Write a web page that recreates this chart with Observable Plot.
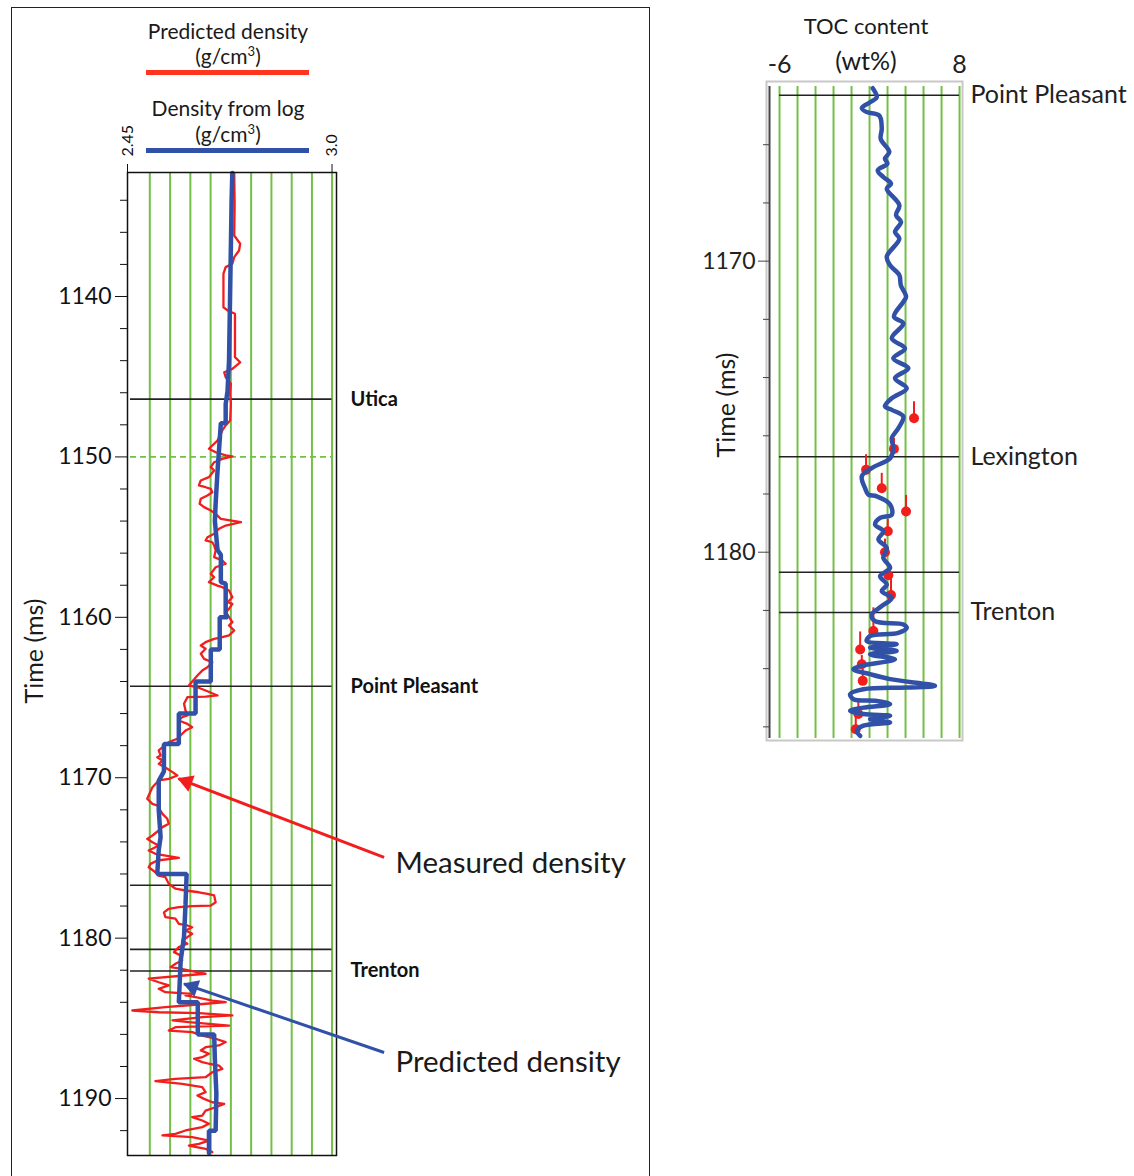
<!DOCTYPE html>
<html>
<head>
<meta charset="utf-8">
<script src="https://cdn.jsdelivr.net/npm/d3@7"></script>
<script src="https://cdn.jsdelivr.net/npm/@observablehq/plot@0.6"></script>
<style>
  body { margin: 0; background: #fff; }
  #page { position: relative; width: 1134px; height: 1176px; overflow: hidden; background: #fff;
          font-family: Lato, "Open Sans", sans-serif; color: #1a1a1a; }
  .t { position: absolute; white-space: nowrap; transform: translate(-50%, -50%); line-height: 1; }
  .rot { transform: translate(-50%, -50%) rotate(-90deg); }
  .sup { font-size: 13px; position: relative; top: -8px; }
  .bar { position: absolute; height: 5px; }
  #leftplot { position: absolute; left: 0; top: 0; width: 650px; }
  #rightplot { position: absolute; left: 690px; top: 0; width: 444px; }
  #frame { position: absolute; left: 11px; top: 7px; width: 637px; height: 1220px; border: 1.5px solid #222; pointer-events: none; }
</style>
</head>
<body>
<div id="page">
  <div id="leftplot"></div>
  <div id="rightplot"></div>
  <div id="frame"></div>

  <div class="t" style="left:228px;top:30px;font-size:21px">Predicted density</div>
  <div class="t" style="left:228px;top:55px;font-size:21px">(g/cm<span class="sup">3</span>)</div>
  <div class="bar" style="left:146px;top:70px;width:163px;background:#ff3520"></div>
  <div class="t" style="left:228px;top:107px;font-size:21px">Density from log</div>
  <div class="t" style="left:228px;top:133px;font-size:21px">(g/cm<span class="sup">3</span>)</div>
  <div class="bar" style="left:146px;top:148px;width:163px;background:#3151a9"></div>

  <div class="t rot" style="left:33px;top:651px;font-size:25px">Time (ms)</div>
  <div class="t rot" style="left:725px;top:405px;font-size:25px">Time (ms)</div>

  <div class="t" style="left:866px;top:26px;font-size:22px">TOC content</div>
  <div class="t" style="left:866px;top:60px;font-size:25px">(wt%)</div>
</div>

<script>
// ---------------- data ----------------
// Left track: density (g/cm3) vs two-way time (ms)
const densityTicks = [2.45, 3.0];
const densityTickLabels = ["2.45", "3.0"];
const densityGrid = [2.51, 2.5645, 2.619, 2.6735, 2.728, 2.7825, 2.837, 2.8915, 2.946, 3.0];
const timeMajorLeft = [1140, 1150, 1160, 1170, 1180, 1190];
const timeMinorLeft = [1134, 1136, 1138, 1142, 1144, 1146, 1148, 1152, 1154, 1156, 1158, 1162, 1164, 1166, 1168,
                       1172, 1174, 1176, 1178, 1182, 1184, 1186, 1188, 1192];
const dashedTime = [1150];
const leftHorizonTimes = [1146.4, 1164.3, 1176.7, 1180.7, 1182.05];
const leftHorizonNames = ["Utica", "Point Pleasant", "", "", "Trenton"];

// measured density (red) [time, density]
const measuredDensity = [
[1132.33,2.737],[1134.02,2.738],[1134.51,2.738],[1136.2,2.737],[1136.71,2.753],[1137.13,2.750],[1137.55,2.737],[1137.96,2.732],[1138.17,2.714],[1138.58,2.708],[1140.67,2.708],[1140.87,2.719],[1141.08,2.739],[1143.78,2.739],[1144.10,2.753],[1144.51,2.732],[1144.72,2.710],[1145.03,2.714],[1145.44,2.728],[1146.07,2.726],[1146.69,2.728],[1147.73,2.726],[1148.04,2.714],[1148.35,2.705],[1148.98,2.692],[1149.29,2.678],[1149.49,2.669],[1149.71,2.687],[1149.91,2.714],[1149.97,2.732],[1150.12,2.705],[1150.33,2.683],[1150.64,2.674],[1150.85,2.683],[1151.26,2.669],[1151.47,2.647],[1151.78,2.642],[1151.89,2.660],[1151.99,2.674],[1152.20,2.678],[1152.41,2.665],[1152.61,2.647],[1152.92,2.644],[1153.13,2.656],[1153.34,2.674],[1153.55,2.687],[1153.86,2.701],[1154.07,2.755],[1154.28,2.714],[1154.48,2.696],[1154.79,2.683],[1155.01,2.665],[1155.21,2.660],[1155.32,2.678],[1155.52,2.683],[1155.83,2.687],[1156.25,2.683],[1156.46,2.705],[1156.66,2.714],[1156.88,2.687],[1157.29,2.674],[1157.50,2.683],[1157.81,2.669],[1158.02,2.692],[1158.12,2.705],[1158.33,2.723],[1158.75,2.732],[1159.06,2.719],[1159.16,2.732],[1159.47,2.723],[1159.68,2.714],[1159.99,2.723],[1160.30,2.732],[1160.51,2.723],[1160.82,2.737],[1161.13,2.723],[1161.24,2.705],[1161.34,2.683],[1161.55,2.660],[1161.76,2.647],[1161.96,2.660],[1162.27,2.647],[1162.59,2.656],[1162.80,2.678],[1163.11,2.665],[1163.32,2.651],[1163.63,2.638],[1164.25,2.615],[1164.36,2.638],[1164.56,2.660],[1164.87,2.692],[1164.94,2.660],[1164.98,2.611],[1165.39,2.602],[1165.81,2.606],[1166.12,2.611],[1166.23,2.597],[1166.43,2.588],[1166.64,2.611],[1166.85,2.624],[1167.06,2.606],[1167.26,2.597],[1167.57,2.584],[1167.78,2.561],[1168.10,2.544],[1168.30,2.534],[1168.61,2.539],[1168.72,2.530],[1168.93,2.544],[1169.13,2.534],[1169.44,2.557],[1169.65,2.571],[1169.86,2.584],[1170.07,2.561],[1170.17,2.534],[1170.59,2.517],[1171.31,2.503],[1171.63,2.517],[1171.73,2.530],[1172.25,2.544],[1172.56,2.557],[1172.87,2.561],[1173.08,2.544],[1173.29,2.534],[1173.60,2.517],[1173.81,2.503],[1174.02,2.517],[1174.23,2.534],[1174.43,2.517],[1174.54,2.507],[1174.74,2.525],[1174.99,2.588],[1175.16,2.530],[1175.37,2.512],[1175.58,2.507],[1175.89,2.525],[1176.10,2.534],[1176.20,2.552],[1176.61,2.561],[1176.92,2.579],[1177.03,2.606],[1177.14,2.642],[1177.24,2.665],[1177.34,2.683],[1177.76,2.687],[1177.97,2.674],[1178.00,2.624],[1178.07,2.588],[1178.17,2.561],[1178.39,2.548],[1178.69,2.552],[1178.79,2.579],[1179.11,2.588],[1179.21,2.611],[1179.32,2.624],[1179.52,2.606],[1179.73,2.624],[1179.94,2.611],[1180.14,2.597],[1180.35,2.611],[1180.56,2.588],[1180.87,2.575],[1181.08,2.593],[1181.39,2.597],[1181.60,2.579],[1181.81,2.566],[1181.89,2.588],[1182.22,2.660],[1182.33,2.602],[1182.53,2.507],[1182.75,2.534],[1182.95,2.561],[1183.16,2.534],[1183.37,2.552],[1183.47,2.624],[1183.57,2.606],[1183.68,2.633],[1183.89,2.678],[1183.99,2.714],[1184.09,2.660],[1184.20,2.606],[1184.30,2.552],[1184.51,2.463],[1184.62,2.534],[1184.68,2.642],[1184.82,2.732],[1184.93,2.651],[1185.13,2.571],[1185.24,2.615],[1185.45,2.723],[1185.55,2.579],[1185.76,2.561],[1185.86,2.624],[1186.07,2.651],[1186.27,2.687],[1186.48,2.714],[1186.69,2.696],[1186.80,2.660],[1187.00,2.647],[1187.21,2.669],[1187.42,2.651],[1187.52,2.629],[1187.73,2.651],[1187.83,2.669],[1187.94,2.696],[1188.15,2.705],[1188.36,2.678],[1188.67,2.660],[1188.77,2.579],[1188.92,2.525],[1189.08,2.597],[1189.29,2.651],[1189.60,2.660],[1189.81,2.638],[1190.02,2.656],[1190.23,2.678],[1190.33,2.710],[1190.54,2.687],[1190.75,2.660],[1191.06,2.651],[1191.16,2.624],[1191.37,2.651],[1191.57,2.669],[1191.78,2.651],[1191.99,2.606],[1192.20,2.579],[1192.30,2.544],[1192.41,2.624],[1192.62,2.669],[1192.82,2.642],[1192.93,2.615],[1193.13,2.660],[1193.34,2.678]
];

// predicted density (blue, blocky) [time, density]
const predictedDensity = [
[1132.3,2.732],[1134.0,2.730],[1144.0,2.723],[1145.9,2.719],[1146.7,2.714],[1147.9,2.714],[1147.9,2.701],[1149.6,2.696],[1150.9,2.692],[1152.9,2.687],[1154.0,2.685],[1155.8,2.692],[1156.1,2.701],[1157.8,2.701],[1157.9,2.714],[1159.8,2.714],[1160.0,2.719],[1160.0,2.698],[1162.0,2.698],[1162.0,2.674],[1164.0,2.674],[1164.0,2.633],[1166.0,2.633],[1166.0,2.588],[1167.9,2.588],[1167.9,2.548],[1169.6,2.548],[1170.2,2.534],[1172.0,2.534],[1173.7,2.539],[1174.5,2.534],[1176.0,2.530],[1176.0,2.609],[1177.9,2.606],[1179.9,2.602],[1181.4,2.593],[1184.0,2.588],[1184.0,2.639],[1186.0,2.639],[1186.0,2.683],[1187.6,2.685],[1189.7,2.689],[1192.0,2.687],[1192.0,2.669],[1193.4,2.669]
];

// callouts: label, text anchor [time, density], arrow tip [time, density], arrow tail [time, density]
const calloutLabels = ["Measured density", "Predicted density"];
const calloutTextPos = [[1175.35, 3.1706], [1187.76, 3.1706]];
const calloutTip = [[1170.05, 2.587], [1182.85, 2.602]];
const calloutTail = [[1174.97, 3.140], [1187.13, 3.140]];

// Right track: TOC (wt%) vs time
const tocTicks = [-6, 8];
const tocTickLabels = ["-6", "8"];
const tocGrid = [-6, -4.6, -3.2, -1.8, -0.4, 1, 2.4, 3.8, 5.2, 6.6, 8];
const timeMajorRight = [1170, 1180];
const timeMinorRight = [1166, 1168, 1172, 1174, 1176, 1178, 1182, 1184, 1186];
const rightHorizonTimes = [1164.3, 1176.72, 1180.69, 1182.07];
const rightHorizonNames = ["Point Pleasant", "Lexington", "", "Trenton"];

// predicted TOC (blue) [time, TOC]
const tocCurve = [
[1164.06,1.25],[1164.37,1.56],[1164.54,1.04],[1164.74,0.40],[1164.88,0.78],[1165.0,1.76],[1165.45,1.95],[1165.8,1.87],[1166.25,2.54],[1166.48,2.2],[1166.65,2.39],[1166.88,1.64],[1167.11,2.07],[1167.34,2.67],[1167.51,2.34],[1168.08,3.32],[1168.42,3.06],[1168.65,3.45],[1169.0,2.98],[1169.23,3.32],[1169.85,2.34],[1170.14,2.6],[1170.48,3.32],[1170.82,3.43],[1171.22,3.84],[1171.40,3.63],[1171.91,2.9],[1172.14,3.63],[1172.65,2.73],[1173.0,3.76],[1173.34,2.85],[1173.68,4.02],[1174.02,2.98],[1174.37,3.89],[1174.71,2.73],[1174.99,2.2],[1175.11,2.73],[1175.34,3.63],[1175.74,3.24],[1176.08,2.73],[1176.42,2.85],[1176.77,2.6],[1177.11,1.17],[1177.39,0.4],[1177.80,0.65],[1178.02,0.91],[1178.08,1.56],[1178.36,2.6],[1178.71,2.73],[1178.82,1.82],[1179.05,1.43],[1179.28,2.07],[1179.56,1.69],[1179.85,2.34],[1180.19,2.07],[1180.54,2.6],[1180.82,1.82],[1181.11,2.34],[1181.34,1.95],[1181.57,2.73],[1181.85,1.95],[1182.14,1.17],[1182.37,1.43],[1182.48,3.63],[1182.6,3.89],[1182.77,3.24],[1182.88,1.04],[1183.05,0.78],[1183.16,3.11],[1183.28,1.04],[1183.39,3.11],[1183.51,1.04],[1183.68,2.98],[1183.91,0.27],[1184.02,-0.25],[1184.19,1.04],[1184.36,2.6],[1184.59,6.09],[1184.65,3.89],[1184.71,0.52],[1184.88,-0.51],[1185.05,-0.25],[1185.11,1.56],[1185.22,2.6],[1185.34,0.52],[1185.45,-0.51],[1185.56,0.52],[1185.62,2.6],[1185.74,1.04],[1185.85,2.6],[1185.96,0.52],[1186.14,0.01],[1186.31,0.27]
];

// measured TOC samples (red dots) [time, TOC, error bar length in ms]
const tocSamples = [
[1175.40,4.46,0.57],[1176.45,2.90,0.36],[1177.17,0.73,0.52],[1177.80,1.95,0.51],[1178.60,3.84,0.55],[1179.28,2.42,0.41],[1180.00,2.20,0.45],[1180.79,2.46,0.38],[1181.47,2.67,0.72],[1182.71,1.30,0.80],[1183.34,0.27,0.60],[1183.85,0.40,0.30],[1184.42,0.47,0.40],[1185.56,0.13,0.50],[1186.08,-0.07,0.40]
];

// ---------------- drawing ----------------
const GREEN = "#74c044", RED = "#f21e1e", BLUE = "#3151a9";
const intFmt = d3.format("d");
const pts = a => a.map(([t, v]) => ({t, v}));
const measured = pts(measuredDensity);
const predicted = pts(predictedDensity);
const leftHorizons = leftHorizonTimes.map((t, i) => ({t, name: leftHorizonNames[i]}));
const callouts = calloutLabels.map((label, i) => ({
  label, ty: calloutTextPos[i][0], tx: calloutTextPos[i][1],
  y2: calloutTip[i][0], x2: calloutTip[i][1], y1: calloutTail[i][0], x1: calloutTail[i][1]
}));
const densityDomain = [2.45, 3.012];
const timeDomainLeft = [1132.27, 1193.55];
const horizonSpanLeft = [2.458, 3.0];

// left plot layout
const LW = 650, LH = 1176, LM = {left: 127, right: 314, top: 172, bottom: 21};
// arrowhead orientation derived from the same scales the plot uses
const sx = Plot.scale({x: {domain: densityDomain, range: [LM.left, LW - LM.right]}});
const sy = Plot.scale({y: {domain: timeDomainLeft, range: [LM.top, LH - LM.bottom]}});
const HEAD_BACK = 9;
const heads = callouts.map(c => {
  const px2 = sx.apply(c.x2), py2 = sy.apply(c.y2), px1 = sx.apply(c.x1), py1 = sy.apply(c.y1);
  const ddx = px2 - px1, ddy = py2 - py1, len = Math.hypot(ddx, ddy);
  return {
    rotate: Math.atan2(ddx, -ddy) * 180 / Math.PI,
    dx: -ddx / len * HEAD_BACK, dy: -ddy / len * HEAD_BACK
  };
});
const calloutColors = [RED, BLUE];

const left = Plot.plot({
  width: LW, height: LH,
  marginLeft: LM.left, marginRight: LM.right, marginTop: LM.top, marginBottom: LM.bottom,
  style: {background: "transparent", fontFamily: "Lato, sans-serif", color: "#111", overflow: "visible"},
  x: {domain: densityDomain, label: null},
  y: {domain: timeDomainLeft, reverse: true, label: null},
  marks: [
    Plot.ruleX(densityGrid, {stroke: GREEN, strokeWidth: 2}),
    Plot.ruleY(dashedTime, {x1: horizonSpanLeft[0], x2: horizonSpanLeft[1], stroke: GREEN, strokeWidth: 1.6, strokeDasharray: "6,4"}),
    Plot.ruleY(leftHorizons, {y: "t", x1: horizonSpanLeft[0], x2: horizonSpanLeft[1], stroke: "#222", strokeWidth: 1.6}),
    Plot.line(measured, {x: "v", y: "t", stroke: RED, strokeWidth: 2.3}),
    Plot.line(predicted, {x: "v", y: "t", stroke: BLUE, strokeWidth: 4.5, strokeLinejoin: "miter"}),
    Plot.frame({stroke: "#111", strokeWidth: 1.5}),
    Plot.axisY({anchor: "left", ticks: timeMinorLeft, tickSize: 7, tickFormat: () => "", label: null}),
    Plot.axisY({anchor: "left", ticks: timeMajorLeft, tickSize: 12, tickPadding: 4, fontSize: 23, tickFormat: intFmt, label: null}),
    Plot.axisX({anchor: "top", ticks: densityTicks, tickSize: 9, tickPadding: 7, tickRotate: -90, fontSize: 16,
                tickFormat: d => densityTickLabels[densityTicks.indexOf(d)], label: null}),
    Plot.text(leftHorizons.filter(d => d.name), {y: "t", text: "name", frameAnchor: "right", dx: 14,
              textAnchor: "start", fontWeight: "bold", fontSize: 20}),
    ...callouts.flatMap((c, i) => [
      Plot.link([c], {x1: "x1", y1: "y1", x2: "x2", y2: "y2", stroke: calloutColors[i], strokeWidth: 3}),
      Plot.dot([c], {x: "x2", y: "y2", symbol: "triangle", r: 6.5, fill: calloutColors[i], stroke: "none",
                     rotate: heads[i].rotate, dx: heads[i].dx, dy: heads[i].dy})
    ]),
    Plot.text(callouts, {x: "tx", y: "ty", text: "label", textAnchor: "start", fontSize: 29.5, fill: "#1a1a1a"})
  ]
});
document.getElementById("leftplot").append(left);

const toc = pts(tocCurve);
const samples = tocSamples.map(([t, v, e]) => ({t, v, e}));
const rightHorizons = rightHorizonTimes.map((t, i) => ({t, name: rightHorizonNames[i]}));
const tocDomain = [-6.78, 8.23];
const timeDomainRight = [1164.0, 1186.4];

const right = Plot.plot({
  width: 444, height: 760,
  marginLeft: 79, marginRight: 172, marginTop: 86, marginBottom: 22,
  style: {background: "transparent", fontFamily: "Lato, sans-serif", color: "#222", overflow: "visible"},
  x: {domain: tocDomain, label: null},
  y: {domain: timeDomainRight, reverse: true, label: null},
  marks: [
    Plot.frame({stroke: "#c8c8c8", strokeWidth: 2, insetTop: -5, insetBottom: -2, insetLeft: -3}),
    Plot.ruleX(tocGrid, {stroke: GREEN, strokeWidth: 2}),
    Plot.ruleY(rightHorizons, {y: "t", x1: tocTicks[0], x2: tocTicks[1], stroke: "#222", strokeWidth: 1.6}),
    Plot.ruleX(samples, {x: "v", y1: d => d.t - d.e, y2: "t", stroke: RED, strokeWidth: 2}),
    Plot.dot(samples, {x: "v", y: "t", r: 5, fill: RED}),
    Plot.line(toc, {x: "v", y: "t", stroke: BLUE, strokeWidth: 4.5, curve: "catmull-rom"}),
    Plot.ruleX([tocDomain[0]], {stroke: "#444", strokeWidth: 2}),
    Plot.axisY({anchor: "left", ticks: timeMinorRight, tickSize: 6, tickFormat: () => "", label: null, stroke: "#444"}),
    Plot.axisY({anchor: "left", ticks: timeMajorRight, tickSize: 11, tickPadding: 3, fontSize: 23, tickFormat: intFmt, label: null, stroke: "#444"}),
    Plot.axisX({anchor: "top", ticks: tocTicks, tickSize: 0, tickPadding: 14, fontSize: 25,
                tickFormat: d => tocTickLabels[tocTicks.indexOf(d)], label: null}),
    Plot.text(rightHorizons.filter(d => d.name), {y: "t", text: "name", frameAnchor: "right", dx: 8,
              textAnchor: "start", fontSize: 25})
  ]
});
document.getElementById("rightplot").append(right);
</script>
</body>
</html>
